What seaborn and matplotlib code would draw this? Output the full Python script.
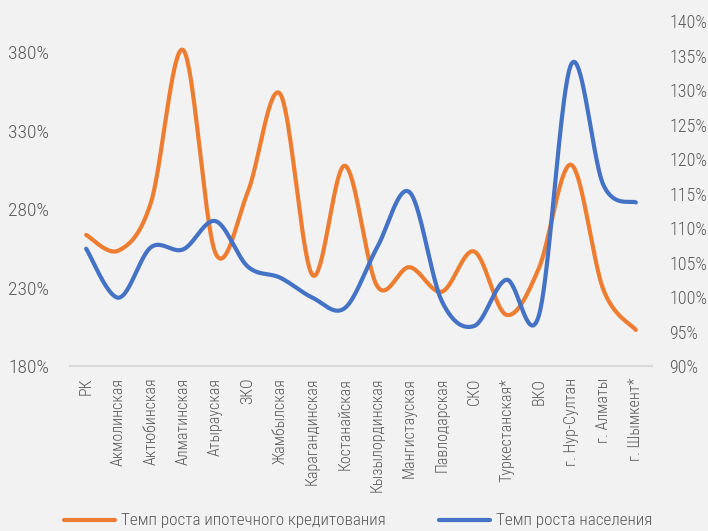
import numpy as np
import pandas as pd
import matplotlib
matplotlib.use("Agg")
import matplotlib.pyplot as plt
import seaborn as sns
from matplotlib import font_manager
from matplotlib.ticker import FuncFormatter, FixedLocator, MultipleLocator
from matplotlib.lines import Line2D

categories = ["РК", "Акмолинская", "Актюбинская", "Алматинская", "Атырауская", "ЗКО",
              "Жамбылская", "Карагандинская", "Костанайская", "Кызылординская",
              "Мангистауская", "Павлодарская", "СКО", "Туркестанская*", "ВКО",
              "г. Нур-Султан", "г. Алматы", "г. Шымкент*"]
mortgage_growth = [263.6, 253.6, 284.0, 381.5, 252.0, 291.0, 353.5, 238.0, 307.7, 231.0,
                   243.0, 227.4, 253.0, 212.6, 242.3, 308.3, 228.5, 203.0]
population_growth = [107.0, 99.9, 107.2, 106.9, 111.0, 104.4, 102.8, 99.9, 98.4, 107.2,
                     115.2, 99.4, 95.8, 102.5, 97.3, 133.7, 116.2, 113.7]
left_ticks = [180, 230, 280, 330, 380]
label_mortgage = "Темп роста ипотечного кредитования"
label_population = "Темп роста населения"

ORANGE = "#ED7D31"
BLUE = "#4472C4"
BG = "#F2F2F2"
TXT = "#595959"

sns.set_theme(style="white")
available = set(f.name for f in font_manager.fontManager.ttflist)
preferred = ["Roboto Condensed", "Fira Sans Extra Condensed", "Fira Sans Condensed",
             "PT Sans Narrow", "Open Sans Condensed", "Archivo Narrow", "Liberation Sans Narrow"]
chosen = [f for f in preferred if f in available][:1]
plt.rcParams['font.family'] = chosen + ['DejaVu Sans']
plt.rcParams['font.weight'] = 'light'


def smooth(yvals, n=40):
    """Excel-style smoothed line (Catmull-Rom as cubic Bezier) through the data points."""
    y = np.asarray(yvals, dtype=float)
    x = np.arange(len(y), dtype=float)
    xs, ys = [], []
    for i in range(len(y) - 1):
        xm1, ym1 = (x[i - 1], y[i - 1]) if i > 0 else (x[i], y[i])
        xp2, yp2 = (x[i + 2], y[i + 2]) if i + 2 < len(y) else (x[i + 1], y[i + 1])
        p0 = np.array([x[i], y[i]])
        p3 = np.array([x[i + 1], y[i + 1]])
        p1 = p0 + (p3 - np.array([xm1, ym1])) / 6.0
        p2 = p3 - (np.array([xp2, yp2]) - p0) / 6.0
        t = np.linspace(0, 1, n, endpoint=(i == len(y) - 2))[:, None]
        pts = ((1 - t) ** 3) * p0 + 3 * ((1 - t) ** 2) * t * p1 + 3 * (1 - t) * t ** 2 * p2 + t ** 3 * p3
        xs.extend(pts[:, 0]); ys.extend(pts[:, 1])
    return np.array(xs), np.array(ys)


fig = plt.figure(figsize=(7.08, 5.31), dpi=100, facecolor=BG)
ax = fig.add_axes([70 / 708, 1 - 366 / 531, (652 - 70) / 708, (366 - 21) / 531])
ax.set_facecolor(BG)
ax2 = ax.twinx()
ax2.set_facecolor("none")

mx, my = smooth(mortgage_growth)
px, py = smooth(population_growth)
df_m = pd.DataFrame({"x": mx, "y": my})
df_p = pd.DataFrame({"x": px, "y": py})

sns.lineplot(data=df_m, x="x", y="y", ax=ax, color=ORANGE, linewidth=3.0,
             sort=False, estimator=None, solid_capstyle="round")
sns.lineplot(data=df_p, x="x", y="y", ax=ax2, color=BLUE, linewidth=3.0,
             sort=False, estimator=None, solid_capstyle="round")

ax.set_xlim(-0.5, len(categories) - 0.5)
ax.set_ylim(180, 400)
ax2.set_ylim(90, 140)
ax.yaxis.set_major_locator(FixedLocator(left_ticks))
ax2.yaxis.set_major_locator(MultipleLocator(5))
ax.yaxis.set_major_formatter(FuncFormatter(lambda v, p: f"{v:.0f}%"))
ax2.yaxis.set_major_formatter(FuncFormatter(lambda v, p: f"{v:.0f}%"))
ax.set_xticks(range(len(categories)))
ax.set_xticklabels(categories, rotation=90, va="top", ha="center")

for a in (ax, ax2):
    a.set_xlabel("")
    a.set_ylabel("")
    a.grid(False)
    for s in a.spines.values():
        s.set_visible(False)
    a.tick_params(length=0, colors=TXT, labelsize=14)
ax.spines["bottom"].set_visible(True)
ax.spines["bottom"].set_color("#D9D9D9")
ax.spines["bottom"].set_linewidth(1.5)
ax.tick_params(axis="x", labelsize=11.5, pad=8.5, colors=TXT)
ax.tick_params(axis="y", pad=15)
ax2.tick_params(axis="y", pad=12.5, labelsize=13)

handles = [Line2D([], [], color=ORANGE, linewidth=3.0, solid_capstyle="round"),
           Line2D([], [], color=BLUE, linewidth=3.0, solid_capstyle="round")]
leg = fig.legend(handles, [label_mortgage, label_population], loc="center",
                 bbox_to_anchor=(358 / 708, 1 - 521 / 531), ncol=2, frameon=False,
                 fontsize=12.3, handlelength=3.0, handletextpad=0.35, columnspacing=3.1,
                 borderaxespad=0, borderpad=0)
for t in leg.get_texts():
    t.set_color(TXT)

fig.savefig("out.png", dpi=100, facecolor=BG)
